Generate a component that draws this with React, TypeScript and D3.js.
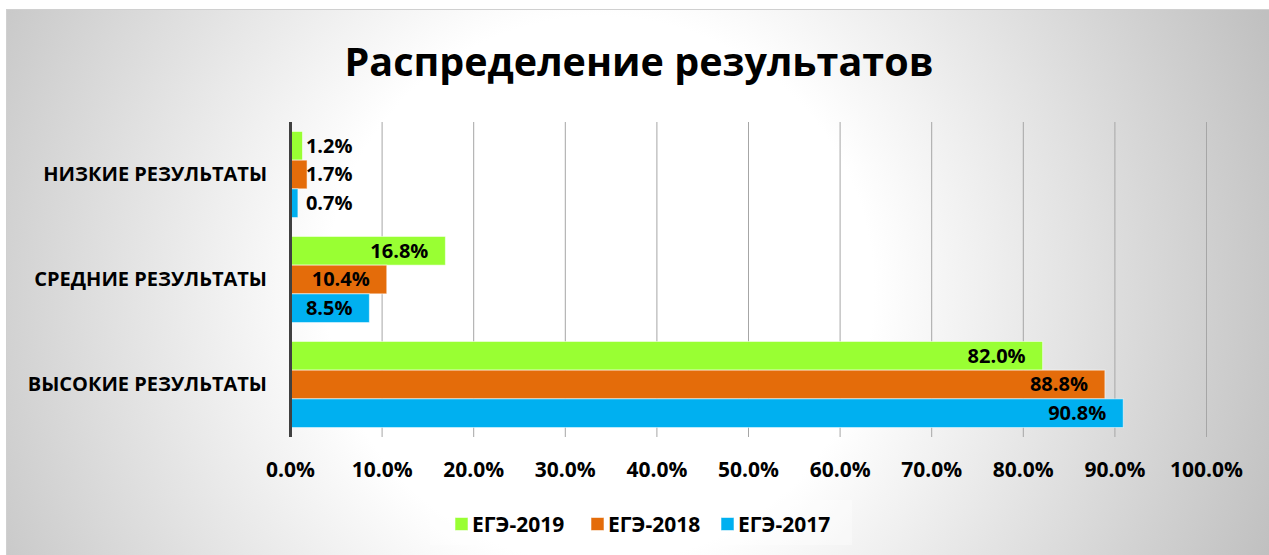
import React from 'react';
import * as d3 from 'd3';

const categories = ['НИЗКИЕ РЕЗУЛЬТАТЫ', 'СРЕДНИЕ РЕЗУЛЬТАТЫ', 'ВЫСОКИЕ РЕЗУЛЬТАТЫ'];
const seriesNames = ['ЕГЭ-2019', 'ЕГЭ-2018', 'ЕГЭ-2017'];
const ege2019 = [1.2, 16.8, 82.0];
const ege2018 = [1.7, 10.4, 88.8];
const ege2017 = [0.7, 8.5, 90.8];
const tickValues = [0, 10, 20, 30, 40, 50, 60, 70, 80, 90, 100];
const seriesColors = ['#99FF33', '#E46C0A', '#00B0F0'];

const font = '"Open Sans", Lato, sans-serif';

const App = () => {
  const width = 1269;
  const height = 555;
  const plot = { left: 290.5, right: 1206.5, top: 122, bottom: 437 };

  const values = [ege2019, ege2018, ege2017];

  const x = d3.scaleLinear().domain([0, 100]).range([plot.left, plot.right]);

  const y0 = d3.scaleBand()
    .domain(categories)
    .range([plot.top, plot.bottom])
    .paddingInner(0.18)
    .paddingOuter(0.09);

  const y1 = d3.scaleBand()
    .domain(seriesNames)
    .range([0, y0.bandwidth()]);

  const fmt = (v: number) => v.toFixed(1) + '%';

  return (
    <div>
      <style>{`body{margin:0}`}</style>
      <svg width={width} height={height} style={{ display: 'block' }}>
        <defs>
          <radialGradient id="bg" gradientUnits="userSpaceOnUse" cx={600} cy={290} r={720}>
            <stop offset="0" stopColor="#ffffff" />
            <stop offset="0.38" stopColor="#ffffff" />
            <stop offset="1" stopColor="#c0c0c0" />
          </radialGradient>
        </defs>
        <rect x={0} y={0} width={width} height={height} fill="#ffffff" />
        <rect x={6.5} y={9.5} width={width - 6} height={height - 9} fill="url(#bg)" stroke="#d0d0d0" />

        <text
          x={639}
          y={76}
          textAnchor="middle"
          fontFamily={font}
          fontWeight="bold"
          fontSize={39.5}
          fill="#000"
        >
          Распределение результатов
        </text>

        {/* gridlines */}
        {tickValues.slice(1).map(t => (
          <line
            key={'g' + t}
            x1={x(t)}
            x2={x(t)}
            y1={plot.top}
            y2={plot.bottom}
            stroke="#a6a6a6"
            strokeWidth={1}
          />
        ))}

        {/* bars */}
        {categories.map((c, ci) => (
          <g key={c} transform={`translate(0, ${y0(c)})`}>
            {seriesNames.map((s, si) => {
              const v = values[si][ci];
              const by = y1(s) as number;
              const bw = x(v) - x(0);
              const labelX = Math.max(x(v) - 16, x(0) + 62);
              return (
                <g key={s}>
                  <rect
                    x={x(0) + 1}
                    y={by}
                    width={bw}
                    height={y1.bandwidth()}
                    fill={seriesColors[si]}
                    stroke="#ffffff"
                    strokeOpacity={0.55}
                    strokeWidth={1}
                  />
                  <text
                    x={labelX}
                    y={by + y1.bandwidth() / 2 + 7}
                    textAnchor="end"
                    fontFamily={font}
                    fontWeight="bold"
                    fontSize={20}
                    fill="#000"
                  >
                    {fmt(v)}
                  </text>
                </g>
              );
            })}
            <text
              x={267}
              y={y0.bandwidth() / 2 + 7}
              textAnchor="end"
              fontFamily={font}
              fontWeight="bold"
              fontSize={20}
              fill="#000"
            >
              {c}
            </text>
          </g>
        ))}

        {/* axis line */}
        <line x1={x(0)} x2={x(0)} y1={plot.top} y2={plot.bottom} stroke="#404040" strokeWidth={3} />

        {/* tick labels */}
        {tickValues.map(t => (
          <text
            key={'t' + t}
            x={x(t)}
            y={476.5}
            textAnchor="middle"
            fontFamily={font}
            fontWeight="bold"
            fontSize={21}
            fill="#000"
          >
            {fmt(t)}
          </text>
        ))}

        {/* legend */}
        <rect x={430} y={500} width={422} height={45} fill="#ffffff" fillOpacity={0.35} />
        {seriesNames.map((s, si) => {
          const lx = [455, 591, 721][si];
          return (
            <g key={'l' + s}>
              <rect
                x={lx}
                y={517.5}
                width={13}
                height={13}
                fill={seriesColors[si]}
                stroke="#ffffff"
                strokeOpacity={0.55}
              />
              <text
                x={lx + 17}
                y={531.5}
                fontFamily={font}
                fontWeight="bold"
                fontSize={21}
                fill="#000"
              >
                {s}
              </text>
            </g>
          );
        })}
      </svg>
    </div>
  );
};

export default App;
